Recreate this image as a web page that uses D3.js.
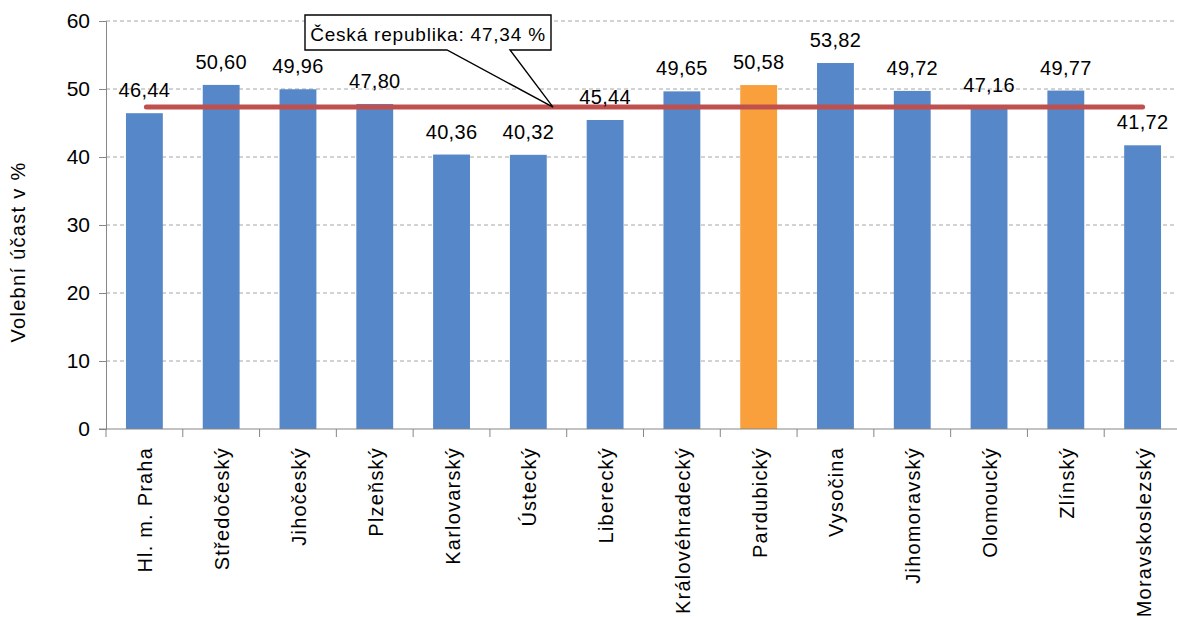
<!DOCTYPE html>
<html>
<head>
<meta charset="utf-8">
<script src="https://cdn.jsdelivr.net/npm/d3@7"></script>
<style>
  body { margin: 0; background: #fff; }
  svg { display: block; font-family: "Liberation Sans", Arial, sans-serif; }
</style>
</head>
<body>
<div id="chart"></div>
<script>
// data
const regions = ["Hl. m. Praha","Středočeský","Jihočeský","Plzeňský","Karlovarský","Ústecký","Liberecký","Královéhradecký","Pardubický","Vysočina","Jihomoravský","Olomoucký","Zlínský","Moravskoslezský"]
const turnout = [46.44,50.60,49.96,47.80,40.36,40.32,45.44,49.65,50.58,53.82,49.72,47.16,49.77,41.72]
const highlight = ["Pardubický"]
const countryLabel = "Česká republika"
const countryValue = 47.34
const yTicks = [0,10,20,30,40,50,60]
const yTitle = "Volební účast v %"

const fmt = v => v.toFixed(2).replace(".", ",")

let width = 1177, height = 617
let margin = {top: 21, left: 106, bottom: 188}
let plotRight = 1181

let svg = d3.select("#chart").append("svg")
    .attr("width", width)
    .attr("height", height)

let x = d3.scaleBand()
    .domain(regions)
    .range([margin.left, plotRight])
    .paddingInner(0.52)
    .paddingOuter(0.26)

let y = d3.scaleLinear()
    .domain([0, 60])
    .range([height - margin.bottom, margin.top])

// gridlines
svg.append("g")
    .selectAll("line")
    .data(yTicks.filter(d => d > 0))
    .enter().append("line")
    .attr("x1", margin.left).attr("x2", width)
    .attr("y1", d => y(d)).attr("y2", d => y(d))
    .attr("stroke", "#a6a6a6")
    .attr("stroke-dasharray", "4,3")

// bars
svg.append("g")
    .selectAll("rect")
    .data(regions)
    .enter().append("rect")
    .attr("x", d => x(d))
    .attr("width", x.bandwidth())
    .attr("y", (d, i) => y(turnout[i]))
    .attr("height", (d, i) => y(0) - y(turnout[i]))
    .attr("fill", d => highlight.includes(d) ? "#f9a03c" : "#5687c8")

// y axis
let yAxis = svg.append("g")
    .attr("transform", "translate(" + margin.left + ",0)")
    .call(d3.axisLeft(y).tickValues(yTicks).tickSize(7).tickPadding(9))
yAxis.select(".domain").attr("stroke", "#868686")
yAxis.selectAll(".tick line").attr("stroke", "#868686")
yAxis.selectAll("text")
    .attr("font-size", 21).attr("fill", "#000")
    .attr("font-family", "Liberation Sans, Arial, sans-serif")

// x axis
let step = x.step()
let xAxis = svg.append("g")
    .attr("transform", "translate(0," + y(0) + ")")
xAxis.append("line")
    .attr("x1", margin.left - 7).attr("x2", width)
    .attr("stroke", "#868686")
xAxis.selectAll(".xt")
    .data(d3.range(regions.length))
    .enter().append("line")
    .attr("x1", i => x(regions[i]) - step * 0.26)
    .attr("x2", i => x(regions[i]) - step * 0.26)
    .attr("y2", 8)
    .attr("stroke", "#868686")
xAxis.selectAll("text")
    .data(regions)
    .enter().append("text")
    .attr("transform", d => "translate(" + (x(d) + x.bandwidth() / 2 + 8) + ",18) rotate(-90)")
    .attr("text-anchor", "end")
    .attr("font-size", 20)
    .attr("letter-spacing", 1.2)
    .text(d => d)

// y title
svg.append("text")
    .attr("transform", "translate(" + 25 + "," + 252 + ") rotate(-90)")
    .attr("text-anchor", "middle")
    .attr("font-size", 20)
    .attr("letter-spacing", 1.3)
    .text(yTitle)

// country average line
let first = regions[0], last = regions[regions.length - 1]
let cy = y(countryValue)
svg.append("line")
    .attr("x1", x(first) + x.bandwidth() / 2 + 2)
    .attr("x2", x(last) + x.bandwidth() / 2)
    .attr("y1", cy).attr("y2", cy)
    .attr("stroke", "#c0504d")
    .attr("stroke-width", 5)
    .attr("stroke-linecap", "round")

// value labels
svg.append("g")
    .selectAll("text")
    .data(regions)
    .enter().append("text")
    .attr("x", d => x(d) + x.bandwidth() / 2)
    .attr("y", (d, i) => y(turnout[i]) - 16)
    .attr("text-anchor", "middle")
    .attr("font-size", 20)
    .attr("letter-spacing", 0.3)
    .text((d, i) => fmt(turnout[i]))

// callout
let box = {x0: 305, x1: 551, y0: 15, y1: 50}
let tipX = 553
svg.append("path")
    .attr("d", "M" + box.x0 + "," + box.y0 + "H" + box.x1 + "V" + box.y1 + "H510L" + tipX + "," + cy + "L447," + box.y1 + "H" + box.x0 + "Z")
    .attr("fill", "#fff")
    .attr("stroke", "#000")
    .attr("stroke-width", 1.4)
svg.append("text")
    .attr("x", (box.x0 + box.x1) / 2)
    .attr("y", 41)
    .attr("text-anchor", "middle")
    .attr("font-size", 19)
    .attr("letter-spacing", 0.8)
    .text(countryLabel + ": " + fmt(countryValue) + " %")
</script>
</body>
</html>
